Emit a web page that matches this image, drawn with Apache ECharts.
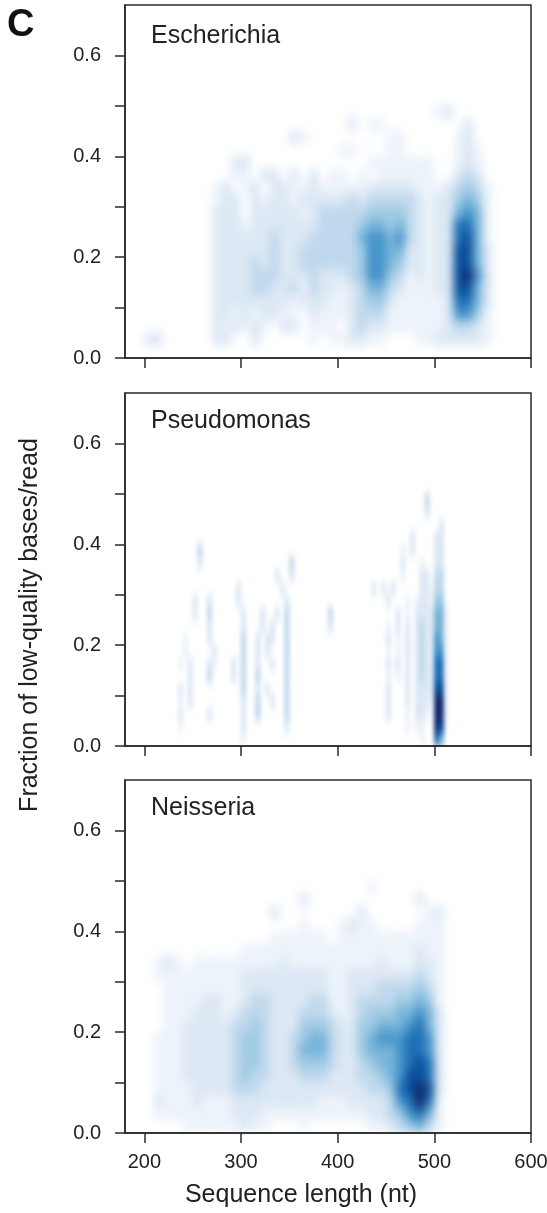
<!DOCTYPE html>
<html lang="en">
<head>
<meta charset="UTF-8">
<title>Fraction of low-quality bases by sequence length</title>
<style>
    html, body { margin: 0; padding: 0; background: #fff; }
    #page { position: relative; width: 547px; height: 1213px; overflow: hidden; }
    #frame { position: absolute; left: 0; top: 0; width: 547px; height: 1213px; }
    .clip { position: absolute; overflow: hidden; }
    .density { width: 100%; height: 100%; }
</style>
</head>
<body>
<svg width="0" height="0" style="position:absolute">
    <filter id="kdeWide" x="-5%" y="-5%" width="110%" height="110%" color-interpolation-filters="sRGB">
        <feGaussianBlur stdDeviation="4.5 5.5"/>
    </filter>
    <filter id="kdeNarrow" x="-5%" y="-5%" width="110%" height="110%" color-interpolation-filters="sRGB">
        <feGaussianBlur stdDeviation="2.1 5"/>
    </filter>
</svg>
<div id="page">
    <div class="clip" style="left:125px;top:5px;width:406px;height:353px"><div class="density" id="d0" style="filter:url(#kdeWide)"></div></div>
    <div class="clip" style="left:125px;top:393px;width:406px;height:353px"><div class="density" id="d1" style="filter:url(#kdeNarrow)"></div></div>
    <div class="clip" style="left:125px;top:780px;width:406px;height:353px"><div class="density" id="d2" style="filter:url(#kdeWide)"></div></div>
    <div id="frame"></div>
</div>
<script src="https://cdn.jsdelivr.net/npm/echarts@6/dist/echarts.min.js"></script>
<script>
    var panelNames = ['Escherichia', 'Pseudomonas', 'Neisseria'];
    var xTicks = [200, 300, 400, 500, 600];
    var yTicks = [0, 0.1, 0.2, 0.3, 0.4, 0.5, 0.6];
    var yTickLabels = [0, 0.2, 0.4, 0.6];
    var levelColors = ['#ffffff', '#edf3fa', '#dce8f4', '#c0d8ed', '#a0cbe4', '#78b4d9', '#4594cb', '#1f6fb4', '#0a4f9b', '#12286a'];

    // density levels 0-9, rows top-down and ending at y = 0, each row is a 0.025 bin
    // columns are 10 nt bins from 180, spaced every 100 nt
    var escherichia = [
        '0000000000 0000000000 0000000000 0012000000',
        '0000000000 0000000000 0002011000 0000020000',
        '0000000000 0000000210 0000000110 0000120000',
        '0000000000 0000000000 0011000110 0000121000',
        '0000000000 0220000000 0000011111 1100121000',
        '0000000000 0110220202 0110101111 1100232000',
        '0000000001 2012022112 1111122222 1112343100',
        '0000000001 2202122122 2223233333 2122454100',
        '0000000002 2202222212 3333344443 2122565100',
        '0000000002 2212222222 3333455453 2122775100',
        '0000000002 2222232223 3333566563 2122785100',
        '0000000002 2222232233 3333466552 2122885200',
        '0000000002 2223232233 3333466542 2122885200',
        '0000000002 2223332223 2223466431 2122896200',
        '0000000002 2223322313 2212355321 1122885200',
        '0000000002 2222222122 2112344211 1112775200',
        '0000000002 2121221102 1112333111 1112664100',
        '0000000002 1212102201 1102322111 1112332100',
        '0022000002 2002000001 0112211000 1122222100',
        ''
    ];
    // columns are 5 nt bins from 180, spaced every 50 nt
    var pseudomonas = [
        '0000000000 0000000000 0000000000 0000000000 0000000000 0000000000 0030000000',
        '0000000000 0000000000 0000000000 0000000000 0000000000 0000000000 0020000000',
        '0000000000 0000000000 0000000000 0000000000 0000000000 0000000000 0000020000',
        '0000000000 0000000000 0000000000 0000000000 0000000000 0000000002 0000220000',
        '0000000000 0000030000 0000000000 0000000000 0000000000 0000000102 0000220000',
        '0000000000 0000020000 0000000000 0000300000 0000000000 0000000200 0100220000',
        '0000000000 0000000000 0000000000 0200200000 0000000000 0000000100 0220330000',
        '0000000000 0000000000 0002000000 0020000000 0000000000 0202020000 0221330000',
        '0000000000 0000200200 0002000000 0002000000 0000000000 0000200010 1221440000',
        '0000000000 0000200300 0000200020 0203000000 0030000000 0000002010 2222551000',
        '0000000000 0000000200 0000200020 2003000000 0020000000 0000102020 2322551000',
        '0000000000 0010000200 0000300202 2003000000 0000000000 0000201020 2322651000',
        '0000000000 0010000020 0000300202 0003000000 0000000000 0000101020 2322661000',
        '0000000000 0102000210 0020300200 2003000000 0000000000 0000202020 2322771000',
        '0000000000 0002000300 0020300300 0003000000 0000000000 0000101020 2322771000',
        '0000000000 0202000000 0000300202 0003000000 0000000000 0000200020 2222881000',
        '0000000000 0102000000 0000200300 2003000000 0000000000 0000200020 2221991000',
        '0000000000 0200000200 0000200300 0003000000 0000000000 0000200010 2210991000',
        '0000000000 0100000000 0000200000 0002000000 0000000000 0000000010 1100980000',
        '0000000000 0000000000 0000100000 0000000000 0000000000 0000000000 0100750000'
    ];
    var neisseria = [
        '0000000000 0000000000 0000010000 0000000000',
        '0000000000 0000000020 0000000000 2000000000',
        '0000000000 0000020000 0000200000 0120000000',
        '0000000000 0000000010 0012110000 1110000000',
        '0000000000 0000011111 1011111111 1110000000',
        '0000000000 0011111111 1111111111 2110000000',
        '0001210111 1111112111 1111112111 2210000000',
        '0001111111 1122222222 2112222222 3210000000',
        '0000111111 1122222222 2112223333 4310000000',
        '0000111122 1123322223 3112333344 5410000000',
        '0000111222 1233322233 3212344455 6520000000',
        '0000112222 2334322244 4322445556 7520000000',
        '0001112222 2344322345 5322456667 7620000000',
        '0001112222 2344322355 5322455567 7620000000',
        '0001112222 2344322344 4322345567 8720000000',
        '0001112222 2343322233 3222334568 8720000000',
        '0001111222 2333222222 2222233478 9820000000',
        '0002111211 1222222222 1112222367 9710000000',
        '0001111111 1222111111 1111122346 7510000000',
        '0000001111 1121100010 0000011234 5310000000'
    ];

    var panels = [escherichia, pseudomonas, neisseria];
    var binWidths = [10, 5, 10];
    var yBins = [];
    for (var b = 0; b < 28; b++) {
        yBins.push((b * 0.025).toFixed(3));
    }

    function toCells(rows) {
        var cells = [];
        rows.forEach(function (row, i) {
            row.replace(/ /g, '').split('').forEach(function (level, col) {
                if (level !== '0') {
                    cells.push([col, rows.length - 1 - i, +level]);
                }
            });
        });
        return cells;
    }

    panels.forEach(function (rows, p) {
        var xBins = [];
        for (var x = 180; x < 600; x += binWidths[p]) {
            xBins.push(String(x));
        }
        var chart = echarts.init(document.getElementById('d' + p));
        chart.setOption({
            animation: false,
            grid: { left: 0, right: 0, top: 0, bottom: 0 },
            xAxis: { type: 'category', data: xBins, show: false },
            yAxis: { type: 'category', data: yBins, show: false },
            visualMap: { show: false, min: 0, max: 9, inRange: { color: levelColors } },
            series: [{
                type: 'heatmap',
                data: toCells(rows),
                progressive: 0,
                itemStyle: { borderWidth: 0 }
            }]
        });
    });

    // axes, spines and text sit on a transparent chart above the densities
    var tops = [5, 393, 780];
    var nameTops = [19, 404, 791];
    var tickFont = { fontFamily: 'Liberation Sans', fontSize: 20, color: '#222' };
    var lineColor = '#2a2a2a';
    var grids = [], xAxes = [], yAxes = [], titles = [];
    panelNames.forEach(function (name, i) {
        grids.push({
            left: 125, width: 406, top: tops[i], height: 353,
            outerBoundsMode: 'none',
            show: true, borderColor: lineColor, borderWidth: 1.5, backgroundColor: 'transparent'
        });
        xAxes.push({
            gridIndex: i, type: 'value', min: 180, max: 600,
            splitLine: { show: false },
            axisLine: { lineStyle: { color: lineColor, width: 1.5 } },
            axisTick: { length: 10, customValues: xTicks, lineStyle: { color: lineColor, width: 1.5 } },
            axisLabel: Object.assign({ show: i === 2, customValues: xTicks, margin: 19 }, tickFont)
        });
        yAxes.push({
            gridIndex: i, type: 'value', min: 0, max: 0.7,
            splitLine: { show: false },
            axisLine: { lineStyle: { color: lineColor, width: 1.5 } },
            axisTick: { length: 10, customValues: yTicks, lineStyle: { color: lineColor, width: 1.5 } },
            axisLabel: Object.assign({
                customValues: yTickLabels, margin: 24,
                formatter: function (v) { return v.toFixed(1); }
            }, tickFont)
        });
        titles.push({
            text: name, left: 146, top: nameTops[i],
            textStyle: { fontFamily: 'Liberation Sans', fontSize: 25, fontWeight: 'normal', color: '#222' }
        });
    });
    titles.push({
        text: 'C', left: 2, top: 2,
        textStyle: { fontFamily: 'Liberation Sans', fontSize: 38, fontWeight: 'bold', color: '#111' }
    });

    var frame = echarts.init(document.getElementById('frame'));
    frame.setOption({
        animation: false,
        backgroundColor: 'transparent',
        title: titles,
        grid: grids,
        xAxis: xAxes,
        yAxis: yAxes,
        graphic: [
            {
                type: 'text', x: 301, y: 1195,
                style: { text: 'Sequence length (nt)', font: '25px "Liberation Sans"', fill: '#222', align: 'center', verticalAlign: 'middle' }
            },
            {
                type: 'text', x: 30, y: 625, rotation: Math.PI / 2,
                style: { text: 'Fraction of low-quality bases/read', font: '25px "Liberation Sans"', fill: '#222', align: 'center', verticalAlign: 'middle' }
            }
        ],
        series: [0, 1, 2].map(function (i) {
            return { type: 'scatter', xAxisIndex: i, yAxisIndex: i, data: [], silent: true };
        })
    });
</script>
</body>
</html>
